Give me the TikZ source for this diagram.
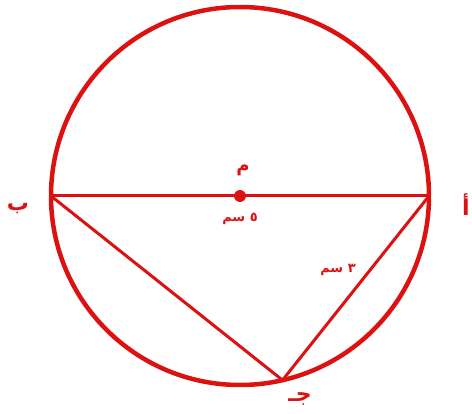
\documentclass[tikz,border=0pt]{standalone}
\usepackage{fontspec}
\usetikzlibrary{positioning, calc}
\TeXXeTstate=1
\newfontfamily\arabicfont[Script=Arabic]{DejaVu Sans}
\definecolor{geoRed}{HTML}{DC1212}
\tikzset{
  pointlabel/.style={text=geoRed, font=\arabicfont\bfseries\fontsize{22}{22}\selectfont, inner sep=0pt},
  lengthlabel/.style={text=geoRed, font=\arabicfont\bfseries\fontsize{13}{13}\selectfont, inner sep=0pt},
  chord/.style={draw=geoRed, line width=3pt}
}
\begin{document}
\begin{tikzpicture}[x=1pt, y=-1pt]
  \useasboundingbox (0,0) rectangle (472,414);
  % circle with centre m
  \coordinate (m) at (240,196);
  \coordinate (a) at (429,196);
  \coordinate (b) at (51,196);
  \coordinate (c) at ($(m)+(77:189)$);
  \draw[geoRed, line width=4.5pt] (m) circle[radius=189pt];
  % diameter and the two chords
  \draw[chord] (b) -- (a);
  \draw[chord] (b) -- (c) -- (a);
  \fill[geoRed] (m) circle[radius=6pt];
  % labels
  \node[pointlabel] (labelA) at (466,205) {\beginR أ\endR};
  \node[pointlabel] (labelB) at (18,209) {\beginR ب\endR};
  \node[pointlabel] (labelC) at (300,399) {\beginR جـ\endR};
  \node[pointlabel, font=\arabicfont\bfseries\fontsize{18}{18}\selectfont] (labelM) at (243,170) {\beginR م\endR};
  \node[lengthlabel] (lenAB) at (240,219) {\beginR ٥ سم\endR};
  \node[lengthlabel] (lenAC) at (338,270) {\beginR ٣ سم\endR};
\end{tikzpicture}
\end{document}
